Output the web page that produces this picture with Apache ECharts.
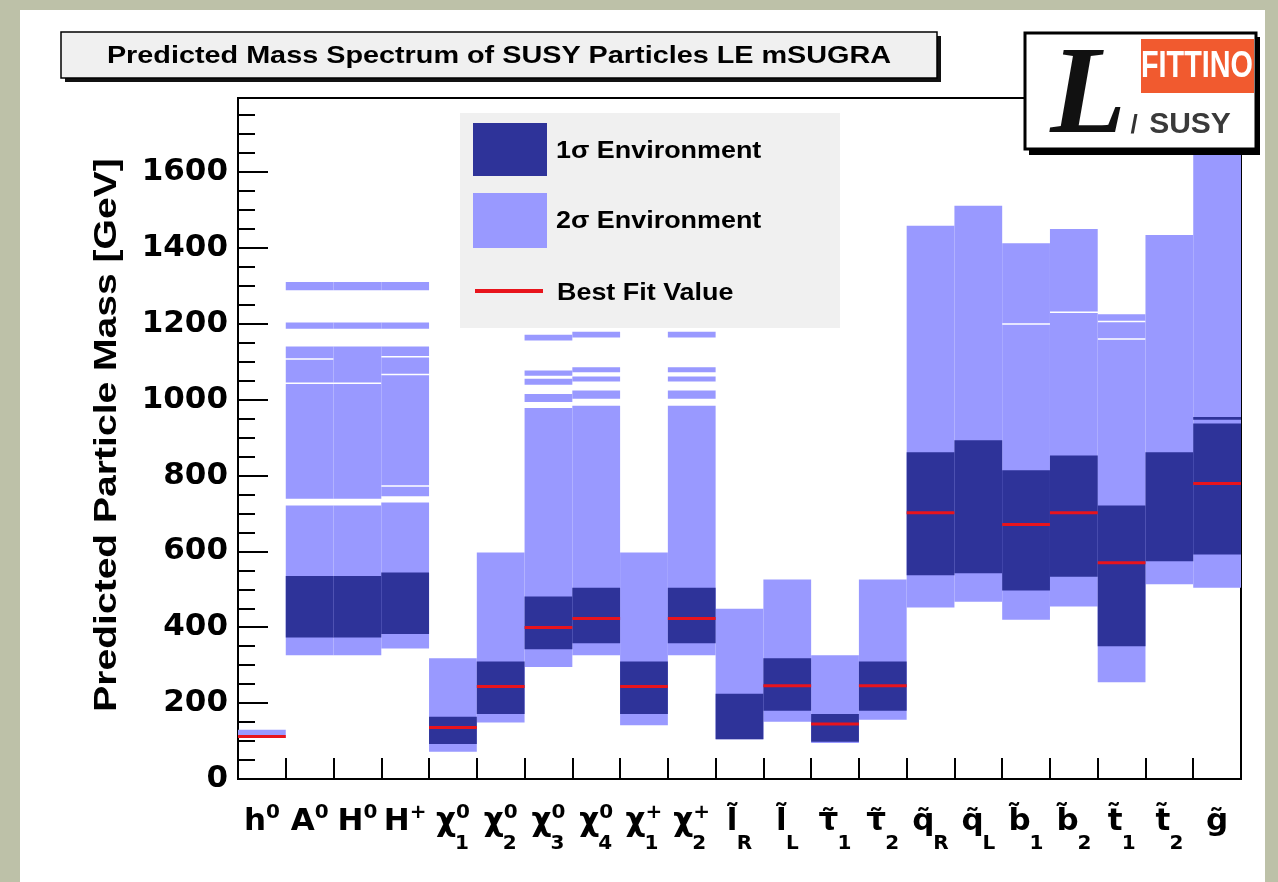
<!DOCTYPE html>
<html><head><meta charset="utf-8">
<script src="https://cdn.jsdelivr.net/npm/echarts@6/dist/echarts.min.js"></script>
<style>html,body{margin:0;padding:0;background:#bdc1a8}#c{width:1278px;height:882px}</style>
</head><body><div id="c"></div>
<script>
// ---------- data ----------
const categories = ['h0','A0','H0','H+','chi01','chi02','chi03','chi04','chi1+','chi2+','lR','lL','tau1','tau2','qR','qL','b1','b2','t1','t2','g'];
const labelBase = ['h','A','H','H','χ','χ','χ','χ','χ','χ','l\u0303','l\u0303','τ\u0303','τ\u0303','q\u0303','q\u0303','b\u0303','b\u0303','t\u0303','t\u0303','g\u0303'];
const labelSup  = ['0','0','0','+','0','0','0','0','+','+','','','','','','','','','','',''];
const labelSub  = ['','','','','1','2','3','4','1','2','R','L','1','2','R','L','1','2','1','2',''];
// 2 sigma environment intervals [low, high] (GeV)
const sigma2 = [
  [[108,130]],
  [[326,721],[739,1041],[1045,1105],[1109,1140],[1187,1203],[1288,1310]],
  [[326,721],[739,1041],[1045,1140],[1187,1203],[1288,1310]],
  [[344,729],[745,770],[774,1064],[1068,1111],[1115,1140],[1187,1203],[1288,1310]],
  [[72,318]],
  [[149,597]],
  [[295,978],[994,1015],[1039,1055],[1063,1077],[1156,1171]],
  [[326,984],[1002,1024],[1048,1061],[1072,1085],[1164,1179]],
  [[142,597]],
  [[326,984],[1002,1024],[1048,1061],[1072,1085],[1164,1179]],
  [[105,449]],
  [[151,526]],
  [[95,326]],
  [[156,526]],
  [[452,1458]],
  [[467,1511]],
  [[420,1197],[1201,1412]],
  [[455,1228],[1232,1450]],
  [[255,1158],[1162,1204],[1208,1225]],
  [[513,1434]],
  [[504,1795]]
];
// 1 sigma environment intervals
const sigma1 = [
  [],
  [[373,535]],
  [[373,535]],
  [[382,544]],
  [[92,164]],
  [[171,310]],
  [[342,481]],
  [[358,504]],
  [[171,310]],
  [[358,504]],
  [[105,225]],
  [[180,318]],
  [[98,171]],
  [[180,310]],
  [[537,861]],
  [[542,893]],
  [[497,814]],
  [[533,853]],
  [[350,721]],
  [[574,861]],
  [[592,937],[947,954]]
];
// best fit values (null = not shown)
const bestFit = [112,null,null,null,136,244,399,423,244,423,null,246,145,246,702,null,671,702,570,null,779];
const yTickLabels = ['0','200','400','600','800','1000','1200','1400','1600'];
const yMax = 1795;

// ---------- styles ----------
const C1 = '#2e3399', C2 = '#9999ff', CRED = '#e8141c';
const FONT = '"Liberation Sans", Arial, Helvetica, sans-serif';
const DFONT = '"DejaVu Sans", sans-serif';
const XFS = 31, XSFS = 20;

function flatten(arr){ const out=[]; arr.forEach((iv,i)=>iv.forEach(p=>out.push([i,p[0],p[1]]))); return out; }
const d2 = flatten(sigma2), d1 = flatten(sigma1);
const dFit = []; bestFit.forEach((v,i)=>{ if(v!==null) dFit.push([i,v]); });

function band(color){
  return function(params, api){
    const i = api.value(0);
    const top = api.coord([i, api.value(2)]);
    const bot = api.coord([i, api.value(1)]);
    const w = api.size([1,0])[0];
    return {type:'rect', shape:{x: top[0]-w/2, y: top[1], width: w, height: bot[1]-top[1]}, style:{fill: color}};
  };
}
function fitLine(params, api){
  const i = api.value(0);
  const p = api.coord([i, api.value(1)]);
  const w = api.size([1,0])[0];
  return {type:'line', shape:{x1:p[0]-w/2, y1:p[1], x2:p[0]+w/2, y2:p[1]}, style:{stroke: CRED, lineWidth: 3}};
}

// measure base glyph widths so subscripts sit right after the base letter
const mctx = document.createElement('canvas').getContext('2d');
mctx.font = 'bold ' + XFS + 'px ' + DFONT;
const rich = {
  b: {fontFamily: DFONT, fontWeight: 'bold', fontSize: XFS, color: '#000', lineHeight: 34, align: 'left', verticalAlign: 'bottom'},
  sp: {fontFamily: DFONT, fontWeight: 'bold', fontSize: XSFS, color: '#000', lineHeight: 34, align: 'left', verticalAlign: 'top'},
  sb: {fontFamily: DFONT, fontWeight: 'bold', fontSize: XSFS, color: '#000', lineHeight: 17, align: 'left', verticalAlign: 'bottom'}
};
labelBase.forEach((b,i)=>{ rich['pad'+i] = {width: Math.round(mctx.measureText(b).width) - 1, lineHeight: 17, align: 'left'}; });

function xLabel(value, index){
  const b = labelBase[index], sp = labelSup[index], sb = labelSub[index];
  let s = '{b|'+b+'}';
  if (sp) s += '{sp|'+sp+'}';
  if (sb) s += '\n{pad'+index+'|}{sb|'+sb+'}';
  return s;
}

const chart = echarts.init(document.getElementById('c'));
chart.setOption({
  backgroundColor: '#bdc1a8',
  animation: false,
  grid: {left: 238, right: 37, top: 98, bottom: 103, show: true, borderColor: '#000', borderWidth: 2, backgroundColor: 'transparent'},
  xAxis: {
    type: 'category', data: categories, boundaryGap: true,
    axisLine: {show: true, lineStyle: {color: '#000', width: 2}},
    axisTick: {show: true, inside: true, length: 21, lineStyle: {color: '#000', width: 2}},
    splitLine: {show: false},
    axisLabel: {interval: 0, margin: 24, formatter: xLabel, align: 'center', rich: rich}
  },
  yAxis: {
    type: 'value', min: 0, max: yMax, interval: 200,
    axisLine: {show: true, lineStyle: {color: '#000', width: 2}},
    axisTick: {show: true, inside: true, length: 30, lineStyle: {color: '#000', width: 2}},
    minorTick: {show: true, splitNumber: 4, length: 17, lineStyle: {color: '#000', width: 2}},
    splitLine: {show: false},
    axisLabel: {
      margin: 10, fontFamily: DFONT, fontWeight: 'bold', fontSize: 31, color: '#000',
      formatter: function(v){ const k = yTickLabels.indexOf(String(v)); return k>=0 ? yTickLabels[k] : ''; }
    }
  },
  series: [
    {type: 'custom', name: '2σ Environment', renderItem: band(C2), data: d2, encode: {x: 0, y: [1,2]}, z: 2},
    {type: 'custom', name: '1σ Environment', renderItem: band(C1), data: d1, encode: {x: 0, y: [1,2]}, z: 3},
    {type: 'custom', name: 'Best Fit Value', renderItem: fitLine, data: dFit, encode: {x: 0, y: 1}, z: 4}
  ],
  graphic: [
    {type: 'rect', z: -100, shape: {x: 20, y: 10, width: 1245, height: 872}, style: {fill: '#fff'}},
    // y axis title
    {type: 'text', z: 50, x: 107, y: 435, rotation: Math.PI/2, scaleX: 1.26, style: {text: 'Predicted Particle Mass [GeV]', fontFamily: FONT, fontWeight: 'bold', fontSize: 31, fill: '#000', textAlign: 'center', textVerticalAlign: 'middle'}},
    // title box
    {type: 'rect', z: 100, shape: {x: 65, y: 36, width: 876, height: 46}, style: {fill: '#111'}},
    {type: 'rect', z: 101, shape: {x: 61, y: 32, width: 876, height: 46}, style: {fill: '#f0f0f0', stroke: '#000', lineWidth: 1.5}},
    {type: 'text', z: 102, x: 499, y: 56, scaleX: 1.2, style: {text: 'Predicted Mass Spectrum of SUSY Particles LE mSUGRA', fontFamily: FONT, fontWeight: 'bold', fontSize: 24, fill: '#000', textAlign: 'center', textVerticalAlign: 'middle'}},
    // legend
    {type: 'rect', z: 100, shape: {x: 460, y: 113, width: 380, height: 215}, style: {fill: '#f0f0f0'}},
    {type: 'rect', z: 101, shape: {x: 473, y: 123, width: 74, height: 53}, style: {fill: C1}},
    {type: 'rect', z: 101, shape: {x: 473, y: 193, width: 74, height: 55}, style: {fill: C2}},
    {type: 'line', z: 101, shape: {x1: 475, y1: 291, x2: 543, y2: 291}, style: {stroke: CRED, lineWidth: 4}},
    {type: 'text', z: 101, x: 556, y: 152, scaleX: 1.17, style: {text: '1σ Environment', fontFamily: FONT, fontWeight: 'bold', fontSize: 23, fill: '#000', textVerticalAlign: 'middle'}},
    {type: 'text', z: 101, x: 556, y: 222, scaleX: 1.17, style: {text: '2σ Environment', fontFamily: FONT, fontWeight: 'bold', fontSize: 23, fill: '#000', textVerticalAlign: 'middle'}},
    {type: 'text', z: 101, x: 557, y: 294, scaleX: 1.17, style: {text: 'Best Fit Value', fontFamily: FONT, fontWeight: 'bold', fontSize: 23, fill: '#000', textVerticalAlign: 'middle'}},
    // logo
    {type: 'rect', z: 110, shape: {x: 1029, y: 37, width: 231, height: 118}, style: {fill: '#000'}},
    {type: 'rect', z: 111, shape: {x: 1025, y: 33, width: 231, height: 116}, style: {fill: '#fff', stroke: '#000', lineWidth: 3}},
    {type: 'rect', z: 112, shape: {x: 1141, y: 39, width: 113, height: 54}, style: {fill: '#f15a2f'}},
    {type: 'text', z: 113, x: 1197, y: 67, scaleX: 0.8, style: {text: 'FITTINO', fontFamily: FONT, fontWeight: 'bold', fontSize: 36, fill: '#fff', textAlign: 'center', textVerticalAlign: 'middle'}},
    {type: 'text', z: 113, x: 1088, y: 100, style: {text: 'L', fontFamily: '"Liberation Serif", serif', fontStyle: 'italic', fontWeight: 'bold', fontSize: 124, fill: '#111', textAlign: 'center', textVerticalAlign: 'middle'}},
    {type: 'text', z: 113, x: 1134, y: 126, style: {text: '/', fontFamily: FONT, fontWeight: 'bold', fontSize: 26, fill: '#333', textAlign: 'center', textVerticalAlign: 'middle'}},
    {type: 'text', z: 113, x: 1190, y: 125, style: {text: 'SUSY', fontFamily: FONT, fontWeight: 'bold', fontSize: 30, fill: '#3a3a3a', textAlign: 'center', textVerticalAlign: 'middle'}}
  ]
});
</script>
</body></html>
